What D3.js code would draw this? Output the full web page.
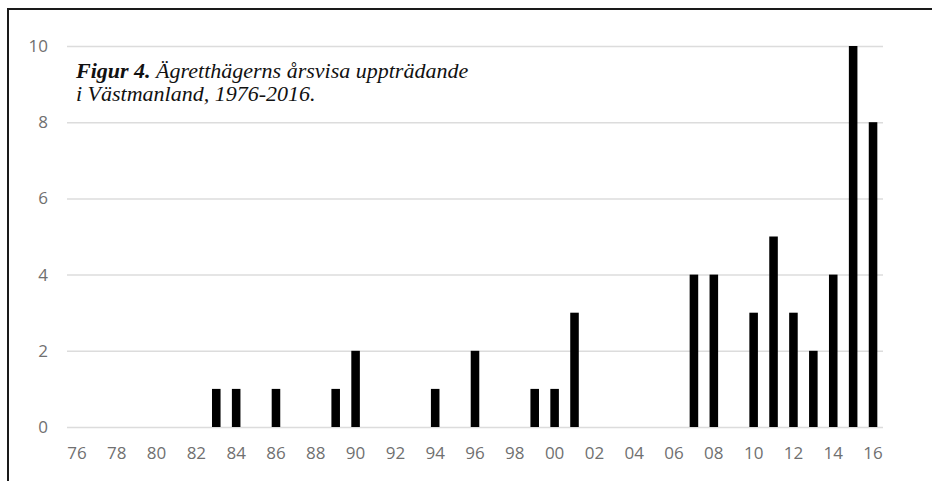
<!DOCTYPE html>
<html>
<head>
<meta charset="utf-8">
<script src="https://cdn.jsdelivr.net/npm/d3@7/dist/d3.min.js"></script>
<style>
  body { margin: 0; background: #fff; }
  svg { display: block; }
</style>
</head>
<body>
<svg id="chart" width="932" height="481"></svg>
<script>
// years 1976-2016, shown as two-digit labels
const years = d3.range(1976, 2017);
const counts = [0, 0, 0, 0, 0, 0, 0, 1, 1, 0, 1, 0, 0, 1, 2, 0, 0, 0, 1, 0,
                2, 0, 0, 1, 1, 3, 0, 0, 0, 0, 0, 4, 4, 0, 3, 5, 3, 2, 4, 10, 8];
const yTicks = [0, 2, 4, 6, 8, 10];
const tickLabelYears = years.filter((y, i) => i % 2 === 0);

const svg = d3.select('#chart'),
    margin = { top: 46, right: 49, bottom: 54, left: 67 },
    width = 932 - margin.left - margin.right,
    height = 481 - margin.top - margin.bottom,
    labelColor = '#707070',
    gridColor = '#dcdcdc';

const x = d3.scaleBand()
    .domain(years)
    .range([0, width])
    .paddingInner(0.57)
    .paddingOuter(0.285);

const y = d3.scaleLinear()
    .domain([0, 10])
    .range([height, 0]);

const g = svg.append('g')
    .attr('transform', `translate(${margin.left},${margin.top})`);

// horizontal gridlines + y labels
const yAxis = g.append('g')
    .call(d3.axisLeft(y).tickValues(yTicks).tickSize(-width).tickPadding(19));

yAxis.select('.domain').remove();
yAxis.selectAll('.tick line')
    .attr('stroke', gridColor)
    .attr('stroke-width', 1.5);
yAxis.selectAll('.tick text')
    .attr('fill', labelColor)
    .style('font-family', '"Open Sans", sans-serif')
    .style('font-size', '17px');

// x labels every second year
const xAxis = g.append('g')
    .attr('transform', `translate(0,${height})`)
    .call(d3.axisBottom(x)
        .tickValues(tickLabelYears)
        .tickSize(0)
        .tickPadding(20)
        .tickFormat(d => String(d).slice(2)));

xAxis.select('.domain').remove();
xAxis.selectAll('.tick text')
    .attr('fill', labelColor)
    .style('font-family', '"Open Sans", sans-serif')
    .style('font-size', '17px');

// bars
g.selectAll('rect.bar')
    .data(years.map((yr, i) => ({ yr, v: counts[i] })).filter(d => d.v > 0))
    .join('rect')
    .attr('class', 'bar')
    .attr('x', d => x(d.yr))
    .attr('width', x.bandwidth())
    .attr('y', d => y(d.v))
    .attr('height', d => height - y(d.v))
    .attr('fill', '#000');

// caption inside plot, two lines
const caption = svg.append('g')
    .style('font-family', '"Liberation Serif", "Times New Roman", serif')
    .style('font-style', 'italic')
    .style('font-size', '22px')
    .attr('fill', '#111');

const line1 = caption.append('text')
    .attr('x', 76)
    .attr('y', 78);

line1.append('tspan')
    .attr('font-weight', 'bold')
    .text('Figur 4.');

line1.append('tspan')
    .text(' Ägretthägerns årsvisa uppträdande');

caption.append('text')
    .attr('x', 76)
    .attr('y', 101)
    .text('i Västmanland, 1976-2016.');

// frame: top and left edges only
svg.append('path')
    .attr('d', 'M8,481V9H932')
    .attr('fill', 'none')
    .attr('stroke', '#1a1a1a')
    .attr('stroke-width', 2);
</script>
</body>
</html>
